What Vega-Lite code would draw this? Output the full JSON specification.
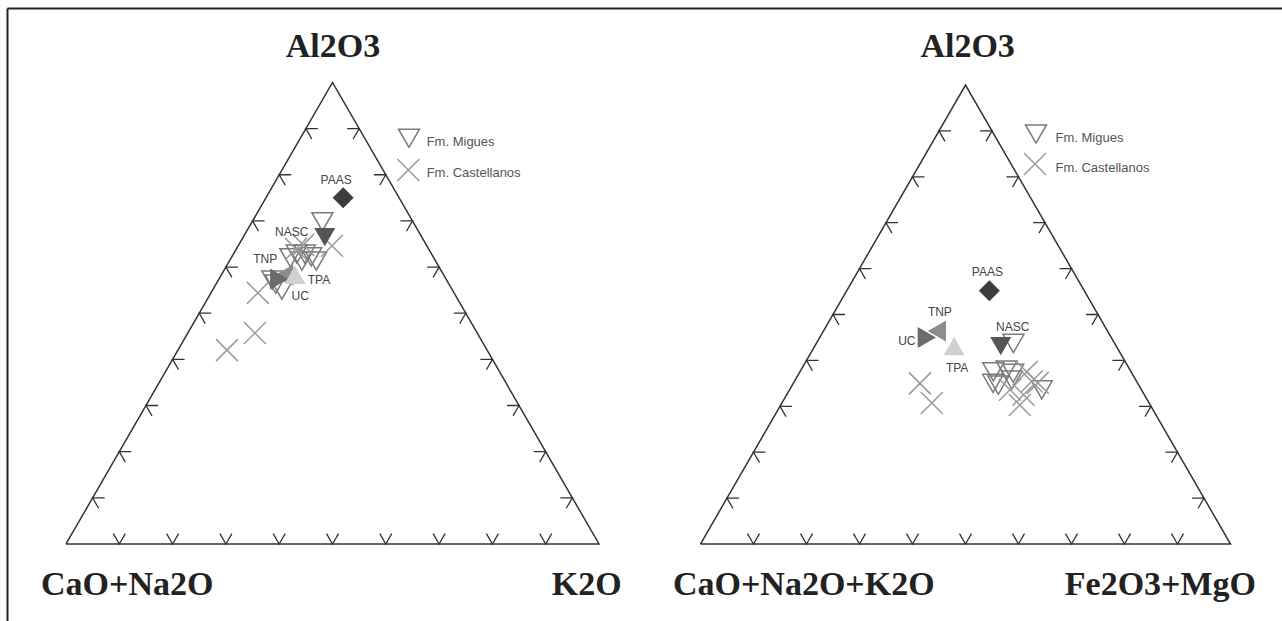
{
  "$schema": "https://vega.github.io/schema/vega-lite/v6.json",
  "padding": 0,
  "spacing": 0,
  "bounds": "flush",
  "background": "white",
  "config": {"view": {"stroke": null}},
  "datasets": {
    "pts": [
      {"panel":0,"kind":"frame"},
      {"panel":0,"kind":"leg","s":"Migues","t":"Fm. Migues"},
      {"panel":0,"kind":"leg","s":"Castellanos","t":"Fm. Castellanos"},
      {"panel":1,"kind":"lab","pos":"top","t":"Al2O3"},
      {"panel":1,"kind":"lab","pos":"bl","t":"CaO+Na2O"},
      {"panel":1,"kind":"lab","pos":"br","t":"K2O"},
      {"panel":2,"kind":"lab","pos":"top","t":"Al2O3"},
      {"panel":2,"kind":"lab","pos":"bl","t":"CaO+Na2O+K2O"},
      {"panel":2,"kind":"lab","pos":"br","t":"Fe2O3+MgO"},
      {"panel":0,"kind":"ol","i":0,"top":0,"left":100,"right":0},
      {"panel":0,"kind":"ol","i":1,"top":0,"left":0,"right":100},
      {"panel":0,"kind":"ol","i":2,"top":100,"left":0,"right":0},
      {"panel":0,"kind":"ol","i":3,"top":0,"left":100,"right":0},
      {"panel":0,"kind":"tb","top":0,"left":90,"right":10},
      {"panel":0,"kind":"tb","top":0,"left":80,"right":20},
      {"panel":0,"kind":"tb","top":0,"left":70,"right":30},
      {"panel":0,"kind":"tb","top":0,"left":60,"right":40},
      {"panel":0,"kind":"tb","top":0,"left":50,"right":50},
      {"panel":0,"kind":"tb","top":0,"left":40,"right":60},
      {"panel":0,"kind":"tb","top":0,"left":30,"right":70},
      {"panel":0,"kind":"tb","top":0,"left":20,"right":80},
      {"panel":0,"kind":"tb","top":0,"left":10,"right":90},
      {"panel":0,"kind":"tl","top":10,"left":90,"right":0},
      {"panel":0,"kind":"tl","top":20,"left":80,"right":0},
      {"panel":0,"kind":"tl","top":30,"left":70,"right":0},
      {"panel":0,"kind":"tl","top":40,"left":60,"right":0},
      {"panel":0,"kind":"tl","top":50,"left":50,"right":0},
      {"panel":0,"kind":"tl","top":60,"left":40,"right":0},
      {"panel":0,"kind":"tl","top":70,"left":30,"right":0},
      {"panel":0,"kind":"tl","top":80,"left":20,"right":0},
      {"panel":0,"kind":"tl","top":90,"left":10,"right":0},
      {"panel":0,"kind":"tr","top":10,"left":0,"right":90},
      {"panel":0,"kind":"tr","top":20,"left":0,"right":80},
      {"panel":0,"kind":"tr","top":30,"left":0,"right":70},
      {"panel":0,"kind":"tr","top":40,"left":0,"right":60},
      {"panel":0,"kind":"tr","top":50,"left":0,"right":50},
      {"panel":0,"kind":"tr","top":60,"left":0,"right":40},
      {"panel":0,"kind":"tr","top":70,"left":0,"right":30},
      {"panel":0,"kind":"tr","top":80,"left":0,"right":20},
      {"panel":0,"kind":"tr","top":90,"left":0,"right":10},

      {"panel":1,"kind":"Migues","top":69.8,"left":17.0,"right":13.2},
      {"panel":1,"kind":"Migues","top":62.8,"left":25.3,"right":11.9},
      {"panel":1,"kind":"Migues","top":62.8,"left":23.8,"right":13.4},
      {"panel":1,"kind":"Migues","top":62.2,"left":22.9,"right":14.9},
      {"panel":1,"kind":"Migues","top":61.3,"left":25.1,"right":13.6},
      {"panel":1,"kind":"Migues","top":61.3,"left":22.4,"right":16.3},
      {"panel":1,"kind":"Migues","top":62.0,"left":26.9,"right":11.1},
      {"panel":1,"kind":"Migues","top":56.3,"left":32.5,"right":11.2},
      {"panel":1,"kind":"Migues","top":55.0,"left":32.0,"right":13.0},
      {"panel":1,"kind":"Migues","top":57.2,"left":32.7,"right":10.1},
      {"panel":1,"kind":"Castellanos","top":64.6,"left":17.8,"right":17.6},
      {"panel":1,"kind":"Castellanos","top":63.9,"left":24.9,"right":11.2},
      {"panel":1,"kind":"Castellanos","top":64.8,"left":23.1,"right":12.1},
      {"panel":1,"kind":"Castellanos","top":54.4,"left":36.8,"right":8.8},
      {"panel":1,"kind":"Castellanos","top":45.7,"left":41.7,"right":12.6},
      {"panel":1,"kind":"Castellanos","top":42.0,"left":48.8,"right":9.2},
      {"panel":1,"kind":"ref","name":"PAAS","top":75.0,"left":10.5,"right":14.5},
      {"panel":1,"kind":"ref","name":"NASC","top":66.5,"left":18.2,"right":15.3},
      {"panel":1,"kind":"ref","name":"TNP","top":58.3,"left":29.9,"right":11.8},
      {"panel":1,"kind":"ref","name":"UC","top":57.4,"left":31.3,"right":11.3},
      {"panel":1,"kind":"ref","name":"TPA","top":58.3,"left":27.9,"right":13.8},

      {"panel":2,"kind":"Migues","top":43.7,"left":19.1,"right":37.2},
      {"panel":2,"kind":"Migues","top":37.5,"left":26.0,"right":36.5},
      {"panel":2,"kind":"Migues","top":37.9,"left":23.3,"right":38.8},
      {"panel":2,"kind":"Migues","top":37.2,"left":22.4,"right":40.4},
      {"panel":2,"kind":"Migues","top":35.0,"left":27.3,"right":37.7},
      {"panel":2,"kind":"Migues","top":34.6,"left":26.5,"right":38.9},
      {"panel":2,"kind":"Migues","top":35.7,"left":23.4,"right":40.9},
      {"panel":2,"kind":"Migues","top":33.6,"left":18.8,"right":47.6},
      {"panel":2,"kind":"Castellanos","top":35.0,"left":41.1,"right":23.9},
      {"panel":2,"kind":"Castellanos","top":30.7,"left":41.0,"right":28.3},
      {"panel":2,"kind":"Castellanos","top":37.5,"left":19.7,"right":42.8},
      {"panel":2,"kind":"Castellanos","top":35.4,"left":19.8,"right":44.8},
      {"panel":2,"kind":"Castellanos","top":32.5,"left":22.8,"right":44.7},
      {"panel":2,"kind":"Castellanos","top":30.3,"left":24.6,"right":45.1},
      {"panel":2,"kind":"Castellanos","top":33.6,"left":24.8,"right":41.6},
      {"panel":2,"kind":"Castellanos","top":35.1,"left":18.8,"right":46.1},
      {"panel":2,"kind":"ref","name":"PAAS","top":55.2,"left":17.9,"right":26.9},
      {"panel":2,"kind":"ref","name":"NASC","top":43.1,"left":21.8,"right":35.1},
      {"panel":2,"kind":"ref","name":"TNP","top":46.4,"left":32.2,"right":21.4},
      {"panel":2,"kind":"ref","name":"UC","top":45.0,"left":34.8,"right":20.2},
      {"panel":2,"kind":"ref","name":"TPA","top":43.1,"left":30.6,"right":26.3}
    ]
  },
  "hconcat": [
    {
      "width": 635,
      "height": 621,
      "data": {"name": "pts"},
      "transform": [
        {"filter": "datum.panel == 0 || datum.panel == 1"},
        {"calculate": "datum.right / 100 + datum.top / 200", "as": "x"},
        {"calculate": "datum.top / 100 * 0.8660254", "as": "y"}
      ],
      "layer": [
        {"transform": [{"filter": "datum.kind == 'frame'"}], "mark": {"type": "rule", "stroke": "#222222", "strokeWidth": 2},
         "encoding": {"x": {"datum": -0.10976, "type": "quantitative", "scale": {"domain": [-0.12383, 1.06754], "nice": false, "zero": false}, "axis": null}, "y": {"datum": 1.00469, "type": "quantitative", "scale": {"domain": [-0.14447, 1.02064], "nice": false, "zero": false}, "axis": null}, "y2": {"datum": -0.14447}}},
        {"transform": [{"filter": "datum.kind == 'frame'"}], "mark": {"type": "rule", "stroke": "#222222", "strokeWidth": 2},
         "encoding": {"x": {"datum": -0.10976, "type": "quantitative"}, "x2": {"datum": 1.06754}, "y": {"datum": 1.00469, "type": "quantitative"}}},
        {"transform": [{"filter": "datum.kind == 'ol'"}], "mark": {"type": "line", "stroke": "#333333", "strokeWidth": 1.5},
         "encoding": {"x": {"field": "x", "type": "quantitative"}, "y": {"field": "y", "type": "quantitative"}, "order": {"field": "i", "type": "quantitative"}}},
        {"transform": [{"filter": "datum.kind == 'tb'"}], "mark": {"type": "point", "shape": "M-0.5,-0.866L0,0L0.5,-0.866", "filled": false, "stroke": "#333333", "strokeWidth": 1.3, "size": 576, "opacity": 1},
         "encoding": {"x": {"field": "x", "type": "quantitative"}, "y": {"field": "y", "type": "quantitative"}}},
        {"transform": [{"filter": "datum.kind == 'tl'"}], "mark": {"type": "point", "shape": "M1,0L0,0L0.5,0.866", "filled": false, "stroke": "#333333", "strokeWidth": 1.3, "size": 576, "opacity": 1},
         "encoding": {"x": {"field": "x", "type": "quantitative"}, "y": {"field": "y", "type": "quantitative"}}},
        {"transform": [{"filter": "datum.kind == 'tr'"}], "mark": {"type": "point", "shape": "M-1,0L0,0L-0.5,0.866", "filled": false, "stroke": "#333333", "strokeWidth": 1.3, "size": 576, "opacity": 1},
         "encoding": {"x": {"field": "x", "type": "quantitative"}, "y": {"field": "y", "type": "quantitative"}}},
        {"transform": [{"filter": "datum.kind == 'Migues'"}], "mark": {"type": "point", "shape": "triangle-down", "filled": false, "stroke": "#7a7a7a", "strokeWidth": 1.5, "size": 441, "opacity": 1},
         "encoding": {"x": {"field": "x", "type": "quantitative"}, "y": {"field": "y", "type": "quantitative"}}},
        {"transform": [{"filter": "datum.kind == 'Castellanos'"}], "mark": {"type": "point", "shape": "M-1,-1L1,1M-1,1L1,-1", "filled": false, "stroke": "#9a9a9a", "strokeWidth": 1.5, "size": 484, "opacity": 1},
         "encoding": {"x": {"field": "x", "type": "quantitative"}, "y": {"field": "y", "type": "quantitative"}}},
        {"transform": [{"filter": "datum.kind == 'ref'"}], "mark": {"type": "point", "filled": true, "size": 441, "opacity": 1},
         "encoding": {
           "x": {"field": "x", "type": "quantitative"}, "y": {"field": "y", "type": "quantitative"},
           "shape": {"field": "name", "type": "nominal", "scale": {"domain": ["PAAS", "NASC", "UC", "TNP", "TPA"], "range": ["diamond", "triangle-down", "triangle-right", "triangle-left", "triangle-up"]}, "legend": null},
           "color": {"field": "name", "type": "nominal", "scale": {"domain": ["PAAS", "NASC", "UC", "TNP", "TPA"], "range": ["#3d3d3d", "#555555", "#6b6b6b", "#8c8c8c", "#d0d0d0"]}, "legend": null}
         }},
        {"transform": [{"filter": "datum.name == 'PAAS'"}], "mark": {"type": "text", "font": "Liberation Sans", "fontSize": 12, "color": "#444444", "dx": -7, "dy": -18}, "encoding": {"x": {"field": "x", "type": "quantitative"}, "y": {"field": "y", "type": "quantitative"}, "text": {"field": "name"}}},
        {"transform": [{"filter": "datum.name == 'NASC'"}], "mark": {"type": "text", "font": "Liberation Sans", "fontSize": 12, "color": "#444444", "dx": -33, "dy": -5}, "encoding": {"x": {"field": "x", "type": "quantitative"}, "y": {"field": "y", "type": "quantitative"}, "text": {"field": "name"}}},
        {"transform": [{"filter": "datum.name == 'TNP'"}], "mark": {"type": "text", "font": "Liberation Sans", "fontSize": 12, "color": "#444444", "dx": -19, "dy": -16}, "encoding": {"x": {"field": "x", "type": "quantitative"}, "y": {"field": "y", "type": "quantitative"}, "text": {"field": "name"}}},
        {"transform": [{"filter": "datum.name == 'TPA'"}], "mark": {"type": "text", "font": "Liberation Sans", "fontSize": 12, "color": "#444444", "dx": 24, "dy": 5}, "encoding": {"x": {"field": "x", "type": "quantitative"}, "y": {"field": "y", "type": "quantitative"}, "text": {"field": "name"}}},
        {"transform": [{"filter": "datum.name == 'UC'"}], "mark": {"type": "text", "font": "Liberation Sans", "fontSize": 12, "color": "#444444", "dx": 21, "dy": 17}, "encoding": {"x": {"field": "x", "type": "quantitative"}, "y": {"field": "y", "type": "quantitative"}, "text": {"field": "name"}}},
        {"transform": [{"filter": "datum.kind == 'leg' && datum.s == 'Migues'"}], "mark": {"type": "point", "shape": "triangle-down", "filled": false, "stroke": "#7a7a7a", "strokeWidth": 1.5, "size": 441, "opacity": 1},
         "encoding": {"x": {"datum": 0.6435, "type": "quantitative"}, "y": {"datum": 0.7612, "type": "quantitative"}}},
        {"transform": [{"filter": "datum.kind == 'leg' && datum.s == 'Castellanos'"}], "mark": {"type": "point", "shape": "M-1,-1L1,1M-1,1L1,-1", "filled": false, "stroke": "#9a9a9a", "strokeWidth": 1.5, "size": 484, "opacity": 1},
         "encoding": {"x": {"datum": 0.6422, "type": "quantitative"}, "y": {"datum": 0.7017, "type": "quantitative"}}},
        {"transform": [{"filter": "datum.kind == 'leg' && datum.s == 'Migues'"}], "mark": {"type": "text", "font": "Liberation Sans", "fontSize": 13, "color": "#555555", "align": "left", "baseline": "middle"},
         "encoding": {"x": {"datum": 0.6767, "type": "quantitative"}, "y": {"datum": 0.7537, "type": "quantitative"}, "text": {"field": "t"}}},
        {"transform": [{"filter": "datum.kind == 'leg' && datum.s == 'Castellanos'"}], "mark": {"type": "text", "font": "Liberation Sans", "fontSize": 13, "color": "#555555", "align": "left", "baseline": "middle"},
         "encoding": {"x": {"datum": 0.6767, "type": "quantitative"}, "y": {"datum": 0.6966, "type": "quantitative"}, "text": {"field": "t"}}},
        {"transform": [{"filter": "datum.kind == 'lab' && datum.pos == 'top'"}], "mark": {"type": "text", "font": "Liberation Serif", "fontWeight": "bold", "fontSize": 34, "color": "#222222", "align": "center", "baseline": "alphabetic"},
         "encoding": {"x": {"datum": 0.501, "type": "quantitative"}, "y": {"datum": 0.9137, "type": "quantitative"}, "text": {"field": "t"}}},
        {"transform": [{"filter": "datum.kind == 'lab' && datum.pos == 'bl'"}], "mark": {"type": "text", "font": "Liberation Serif", "fontWeight": "bold", "fontSize": 34, "color": "#222222", "align": "left", "baseline": "alphabetic"},
         "encoding": {"x": {"datum": -0.0469, "type": "quantitative"}, "y": {"datum": -0.0957, "type": "quantitative"}, "text": {"field": "t"}}},
        {"transform": [{"filter": "datum.kind == 'lab' && datum.pos == 'br'"}], "mark": {"type": "text", "font": "Liberation Serif", "fontWeight": "bold", "fontSize": 34, "color": "#222222", "align": "right", "baseline": "alphabetic"},
         "encoding": {"x": {"datum": 1.0426, "type": "quantitative"}, "y": {"datum": -0.0957, "type": "quantitative"}, "text": {"field": "t"}}}
      ]
    },
    {
      "width": 647,
      "height": 621,
      "data": {"name": "pts"},
      "transform": [
        {"filter": "datum.panel == 0 || datum.panel == 2"},
        {"calculate": "datum.right / 100 + datum.top / 200", "as": "x"},
        {"calculate": "datum.top / 100 * 0.8660254", "as": "y"}
      ],
      "layer": [
        {"transform": [{"filter": "datum.kind == 'frame'"}], "mark": {"type": "rule", "stroke": "#222222", "strokeWidth": 2},
         "encoding": {"x": {"datum": -0.12358, "type": "quantitative", "scale": {"domain": [-0.12358, 1.09717], "nice": false, "zero": false}, "axis": null}, "x2": {"datum": 1.09717}, "y": {"datum": 1.01038, "type": "quantitative", "scale": {"domain": [-0.14528, 1.02642], "nice": false, "zero": false}, "axis": null}}},
        {"transform": [{"filter": "datum.kind == 'ol'"}], "mark": {"type": "line", "stroke": "#333333", "strokeWidth": 1.5},
         "encoding": {"x": {"field": "x", "type": "quantitative"}, "y": {"field": "y", "type": "quantitative"}, "order": {"field": "i", "type": "quantitative"}}},
        {"transform": [{"filter": "datum.kind == 'tb'"}], "mark": {"type": "point", "shape": "M-0.5,-0.866L0,0L0.5,-0.866", "filled": false, "stroke": "#333333", "strokeWidth": 1.3, "size": 576, "opacity": 1},
         "encoding": {"x": {"field": "x", "type": "quantitative"}, "y": {"field": "y", "type": "quantitative"}}},
        {"transform": [{"filter": "datum.kind == 'tl'"}], "mark": {"type": "point", "shape": "M1,0L0,0L0.5,0.866", "filled": false, "stroke": "#333333", "strokeWidth": 1.3, "size": 576, "opacity": 1},
         "encoding": {"x": {"field": "x", "type": "quantitative"}, "y": {"field": "y", "type": "quantitative"}}},
        {"transform": [{"filter": "datum.kind == 'tr'"}], "mark": {"type": "point", "shape": "M-1,0L0,0L-0.5,0.866", "filled": false, "stroke": "#333333", "strokeWidth": 1.3, "size": 576, "opacity": 1},
         "encoding": {"x": {"field": "x", "type": "quantitative"}, "y": {"field": "y", "type": "quantitative"}}},
        {"transform": [{"filter": "datum.kind == 'Migues'"}], "mark": {"type": "point", "shape": "triangle-down", "filled": false, "stroke": "#7a7a7a", "strokeWidth": 1.5, "size": 441, "opacity": 1},
         "encoding": {"x": {"field": "x", "type": "quantitative"}, "y": {"field": "y", "type": "quantitative"}}},
        {"transform": [{"filter": "datum.kind == 'Castellanos'"}], "mark": {"type": "point", "shape": "M-1,-1L1,1M-1,1L1,-1", "filled": false, "stroke": "#9a9a9a", "strokeWidth": 1.5, "size": 484, "opacity": 1},
         "encoding": {"x": {"field": "x", "type": "quantitative"}, "y": {"field": "y", "type": "quantitative"}}},
        {"transform": [{"filter": "datum.kind == 'ref'"}], "mark": {"type": "point", "filled": true, "size": 441, "opacity": 1},
         "encoding": {
           "x": {"field": "x", "type": "quantitative"}, "y": {"field": "y", "type": "quantitative"},
           "shape": {"field": "name", "type": "nominal", "scale": {"domain": ["PAAS", "NASC", "UC", "TNP", "TPA"], "range": ["diamond", "triangle-down", "triangle-right", "triangle-left", "triangle-up"]}, "legend": null},
           "color": {"field": "name", "type": "nominal", "scale": {"domain": ["PAAS", "NASC", "UC", "TNP", "TPA"], "range": ["#3d3d3d", "#555555", "#6b6b6b", "#8c8c8c", "#d0d0d0"]}, "legend": null}
         }},
        {"transform": [{"filter": "datum.name == 'PAAS'"}], "mark": {"type": "text", "font": "Liberation Sans", "fontSize": 12, "color": "#444444", "dx": -2, "dy": -19}, "encoding": {"x": {"field": "x", "type": "quantitative"}, "y": {"field": "y", "type": "quantitative"}, "text": {"field": "name"}}},
        {"transform": [{"filter": "datum.name == 'NASC'"}], "mark": {"type": "text", "font": "Liberation Sans", "fontSize": 12, "color": "#444444", "dx": 12, "dy": -19}, "encoding": {"x": {"field": "x", "type": "quantitative"}, "y": {"field": "y", "type": "quantitative"}, "text": {"field": "name"}}},
        {"transform": [{"filter": "datum.name == 'TNP'"}], "mark": {"type": "text", "font": "Liberation Sans", "fontSize": 12, "color": "#444444", "dx": 3, "dy": -19}, "encoding": {"x": {"field": "x", "type": "quantitative"}, "y": {"field": "y", "type": "quantitative"}, "text": {"field": "name"}}},
        {"transform": [{"filter": "datum.name == 'TPA'"}], "mark": {"type": "text", "font": "Liberation Sans", "fontSize": 12, "color": "#444444", "dx": 3, "dy": 22}, "encoding": {"x": {"field": "x", "type": "quantitative"}, "y": {"field": "y", "type": "quantitative"}, "text": {"field": "name"}}},
        {"transform": [{"filter": "datum.name == 'UC'"}], "mark": {"type": "text", "font": "Liberation Sans", "fontSize": 12, "color": "#444444", "dx": -20, "dy": 4}, "encoding": {"x": {"field": "x", "type": "quantitative"}, "y": {"field": "y", "type": "quantitative"}, "text": {"field": "name"}}},
        {"transform": [{"filter": "datum.kind == 'leg' && datum.s == 'Migues'"}], "mark": {"type": "point", "shape": "triangle-down", "filled": false, "stroke": "#7a7a7a", "strokeWidth": 1.5, "size": 441, "opacity": 1},
         "encoding": {"x": {"datum": 0.633, "type": "quantitative"}, "y": {"datum": 0.7736, "type": "quantitative"}}},
        {"transform": [{"filter": "datum.kind == 'leg' && datum.s == 'Castellanos'"}], "mark": {"type": "point", "shape": "M-1,-1L1,1M-1,1L1,-1", "filled": false, "stroke": "#9a9a9a", "strokeWidth": 1.5, "size": 484, "opacity": 1},
         "encoding": {"x": {"datum": 0.6311, "type": "quantitative"}, "y": {"datum": 0.717, "type": "quantitative"}}},
        {"transform": [{"filter": "datum.kind == 'leg' && datum.s == 'Migues'"}], "mark": {"type": "text", "font": "Liberation Sans", "fontSize": 13, "color": "#555555", "align": "left", "baseline": "middle"},
         "encoding": {"x": {"datum": 0.6698, "type": "quantitative"}, "y": {"datum": 0.766, "type": "quantitative"}, "text": {"field": "t"}}},
        {"transform": [{"filter": "datum.kind == 'leg' && datum.s == 'Castellanos'"}], "mark": {"type": "text", "font": "Liberation Sans", "fontSize": 13, "color": "#555555", "align": "left", "baseline": "middle"},
         "encoding": {"x": {"datum": 0.6698, "type": "quantitative"}, "y": {"datum": 0.7094, "type": "quantitative"}, "text": {"field": "t"}}},
        {"transform": [{"filter": "datum.kind == 'lab' && datum.pos == 'top'"}], "mark": {"type": "text", "font": "Liberation Serif", "fontWeight": "bold", "fontSize": 34, "color": "#222222", "align": "center", "baseline": "alphabetic"},
         "encoding": {"x": {"datum": 0.504, "type": "quantitative"}, "y": {"datum": 0.9189, "type": "quantitative"}, "text": {"field": "t"}}},
        {"transform": [{"filter": "datum.kind == 'lab' && datum.pos == 'bl'"}], "mark": {"type": "text", "font": "Liberation Serif", "fontWeight": "bold", "fontSize": 34, "color": "#222222", "align": "left", "baseline": "alphabetic"},
         "encoding": {"x": {"datum": -0.0519, "type": "quantitative"}, "y": {"datum": -0.0962, "type": "quantitative"}, "text": {"field": "t"}}},
        {"transform": [{"filter": "datum.kind == 'lab' && datum.pos == 'br'"}], "mark": {"type": "text", "font": "Liberation Serif", "fontWeight": "bold", "fontSize": 34, "color": "#222222", "align": "right", "baseline": "alphabetic"},
         "encoding": {"x": {"datum": 1.0481, "type": "quantitative"}, "y": {"datum": -0.0962, "type": "quantitative"}, "text": {"field": "t"}}}
      ]
    }
  ]
}
